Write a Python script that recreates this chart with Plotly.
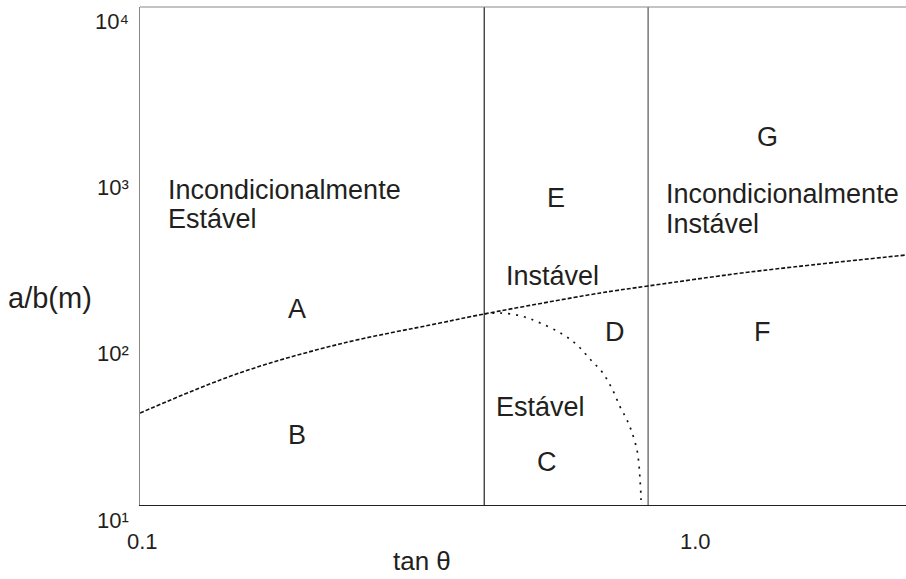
import plotly.graph_objects as go

# ---- data ----
boundary_tan = [0.417, 0.823]          # vertical class boundaries (tan theta)
y_span = [10, 10000]

slope_x = [0.1, 0.151, 0.229, 0.347, 0.417, 0.675, 0.823, 1.256, 2.40]
slope_y = [35.8, 62.4, 93.3, 124.8, 141.5, 189.3, 208.6, 253.3, 320.6]

stable_x = [0.417, 0.445, 0.486, 0.526, 0.576, 0.613, 0.649, 0.680, 0.709,
            0.733, 0.751, 0.767, 0.786, 0.793, 0.796, 0.799, 0.799]
stable_y = [141.5, 143.4, 137.6, 124.9, 107.2, 92.0, 74.7, 63.3, 50.0,
            38.9, 33.4, 28.3, 21.4, 16.9, 14.1, 11.2, 10.0]

y_tick_labels = ["10⁴", "10³", "10²", "10¹"]
x_tick_labels = ["0.1", "1.0"]

FONT = "Liberation Sans, Arial, sans-serif"
TXT = "#231f20"

fig = go.Figure()

# vertical boundaries
colors_v = ["#222222", "#555555"]
for bx, c in zip(boundary_tan, colors_v):
    fig.add_trace(go.Scatter(x=[bx, bx], y=y_span, mode="lines",
                             line=dict(color=c, width=1.2), hoverinfo="skip"))

fig.add_trace(go.Scatter(x=slope_x, y=slope_y, mode="lines",
                         line=dict(color="#111111", width=1.6, dash="4px,2px"),
                         line_shape="spline", hoverinfo="skip"))
fig.add_trace(go.Scatter(x=stable_x, y=stable_y, mode="lines",
                         line=dict(color="#111111", width=1.7, dash="2px,6px"),
                         line_shape="spline", hoverinfo="skip"))

W, H = 906, 579
L, R, T, B = 140, 0, 7, 74
pw, ph = W - L - R, H - T - B


def px(x):
    return (x - L) / pw


def py(y):
    return (H - B - y) / ph


ann = []


def add_text(text, x, y, size=27, xanchor="center", yanchor="middle"):
    ann.append(dict(text=text, x=px(x), y=py(y), xref="paper", yref="paper",
                    xanchor=xanchor, yanchor=yanchor, showarrow=False,
                    font=dict(family=FONT, size=size, color=TXT)))


# tick labels
for lab, yy in zip(y_tick_labels, [21, 188, 353, 520]):
    add_text(lab, 131, yy, size=22, xanchor="right")
for lab, xx in zip(x_tick_labels, [142, 695]):
    add_text(lab, xx, 541, size=22)

# axis titles
add_text("a/b(m)", 50, 298, size=29)
add_text("tan θ", 422, 578, size=26, yanchor="bottom")

# region labels
add_text("Incondicionalmente", 166, 190, xanchor="left")
add_text("Estável", 166, 219, xanchor="left")
add_text("A", 297, 309)
add_text("B", 297, 435)
add_text("E", 556, 198)
add_text("G", 767, 137)
add_text("Incondicionalmente", 664, 194, xanchor="left")
add_text("Instável", 664, 224, xanchor="left")
add_text("Instável", 504, 276, xanchor="left")
add_text("D", 615, 332)
add_text("F", 762, 332)
add_text("Estável", 494, 407, xanchor="left")
add_text("C", 547, 462)

fig.update_layout(
    width=W, height=H,
    margin=dict(l=L, r=R, t=T, b=B, pad=0),
    paper_bgcolor="white", plot_bgcolor="white",
    showlegend=False,
    annotations=ann,
    shapes=[dict(type="line", xref="paper", yref="paper", x0=0, x1=1, y0=1, y1=1,
                 line=dict(color="#888888", width=1.2))],
    xaxis=dict(type="log", range=[-1, 0.380], showgrid=False, zeroline=False,
               showticklabels=False, ticks="", showline=True,
               linecolor="#222222", linewidth=1.2),
    yaxis=dict(type="log", range=[1, 4], showgrid=False, zeroline=False,
               showticklabels=False, ticks="", showline=True,
               linecolor="#888888", linewidth=1.2),
)

fig.write_html("out.html",
               config={"displayModeBar": False},
               post_script="document.body.style.margin='0';"
                           "document.body.style.overflow='hidden';")
